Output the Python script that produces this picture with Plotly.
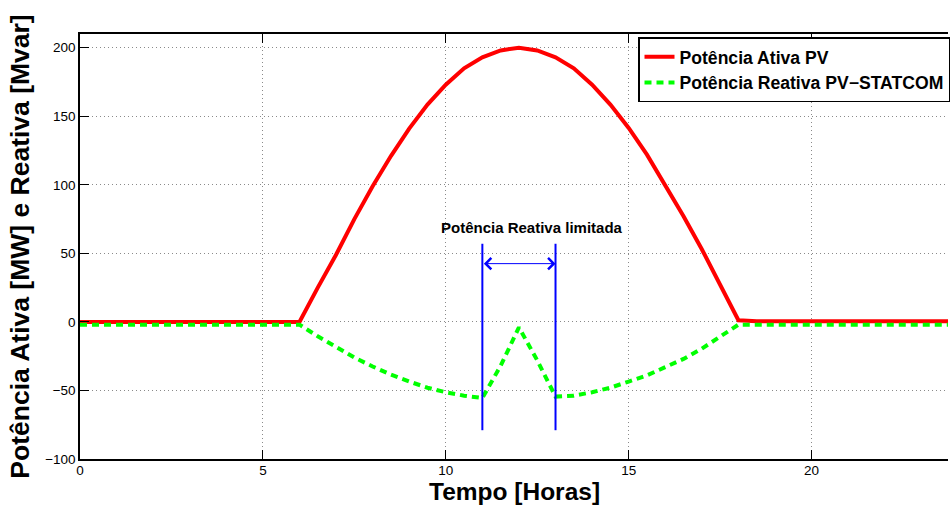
import plotly.graph_objects as go

# ---- data ----
hours_p = [0, 6, 6.5, 7, 7.5, 8, 8.5, 9, 9.5, 10, 10.5, 11, 11.5, 12,
           12.5, 13, 13.5, 14, 14.5, 15, 15.5, 16, 16.5, 17, 17.5, 18, 18.5, 24]
p_ativa = [0, 0, 25, 49, 75, 99, 121, 141, 158.5, 173, 185, 193, 198, 200,
           198, 193, 185, 173, 158.5, 141.5, 122, 100, 77, 53, 27, 1.2, 0.5, 0.5]

hours_q = [0, 6, 6.5, 7, 7.5, 8, 8.5, 9, 9.5, 10, 10.5, 11, 11.5, 12,
           12.5, 13, 13.5, 14, 14.5, 15, 15.5, 16, 16.5, 17, 17.5, 18, 24]
q_reativa = [-2, -2, -10.5, -18.5, -26, -32.5, -38.5, -43.5, -48, -51.3, -53.8, -55.5, -32, -4,
             -28, -54.5, -53.8, -51.3, -48, -43.5, -39, -33, -27, -19.5, -11, -2, -2]

limit_hours = [11, 13]
limit_low = -79
limit_high = 57
arrow_level = 42.5
label_text = "Potência Reativa limitada"
label_pos = (12.37, 69)

x_ticks = [0, 5, 10, 15, 20]
y_ticks = [-100, -50, 0, 50, 100, 150, 200]

FONT = "Liberation Sans, Arial, Helvetica, sans-serif"

fig = go.Figure()
fig.add_trace(go.Scatter(x=hours_p, y=p_ativa, mode="lines",
                         name="<b>Potência Ativa PV</b>",
                         line=dict(color="#ff0000", width=4)))
fig.add_trace(go.Scatter(x=hours_q, y=q_reativa, mode="lines",
                         name="<b>Potência Reativa PV−STATCOM</b>",
                         line=dict(color="#00ff00", width=4, dash="7px,5px")))
for h in limit_hours:
    fig.add_trace(go.Scatter(x=[h, h], y=[limit_low, limit_high], mode="lines",
                             showlegend=False, hoverinfo="skip",
                             line=dict(color="#0000ff", width=2)))

fig.add_annotation(x=limit_hours[1], y=arrow_level, ax=limit_hours[0], ay=arrow_level,
                   xref="x", yref="y", axref="x", ayref="y", text="",
                   showarrow=True, arrowhead=4, startarrowhead=4, arrowside="end+start",
                   arrowsize=2.2, startarrowsize=2.2, arrowwidth=1, arrowcolor="#0000ff")
fig.add_annotation(x=label_pos[0], y=label_pos[1], xref="x", yref="y",
                   text="<b>" + label_text + "</b>", showarrow=False,
                   font=dict(family=FONT, size=15, color="black"))

# x-axis title placed as a paper annotation for exact vertical placement
fig.add_annotation(x=0.5, y=-0.1112, xref="paper", yref="paper",
                   xanchor="center", yanchor="bottom", showarrow=False, borderpad=0,
                   text="<b>Tempo [Horas]</b>",
                   font=dict(family=FONT, size=24.5, color="black"))

axis_common = dict(
    showline=True, linecolor="black", linewidth=1.5,
    ticks="inside", ticklen=9, tickwidth=1, tickcolor="black",
    showgrid=True, gridcolor="#8a8a8a", gridwidth=1, griddash="1px,3px",
    zeroline=False,
    tickfont=dict(family=FONT, size=13.5, color="black"),
)

fig.update_layout(
    width=950, height=506,
    margin=dict(l=80, r=0, t=33.5, b=47.3),
    paper_bgcolor="white", plot_bgcolor="white",
    font=dict(family=FONT, color="black"),
    xaxis=dict(range=[0, 23.73], tickvals=x_ticks, mirror="ticks",
               ticklabelstandoff=-2, **axis_common),
    yaxis=dict(range=[-100, 210], tickvals=y_ticks, mirror=False,
               title=dict(text="<b>Potência Ativa [MW] e Reativa [Mvar]</b>", standoff=8,
                          font=dict(family=FONT, size=26.5, color="black")),
               **axis_common),
    legend=dict(x=0.643, y=0.9925, xanchor="left", yanchor="top",
                bordercolor="black", borderwidth=1.5, bgcolor="white",
                font=dict(family=FONT, size=17.6, color="black"),
                tracegroupgap=0),
    showlegend=True,
)

fig.write_html("out.html")
